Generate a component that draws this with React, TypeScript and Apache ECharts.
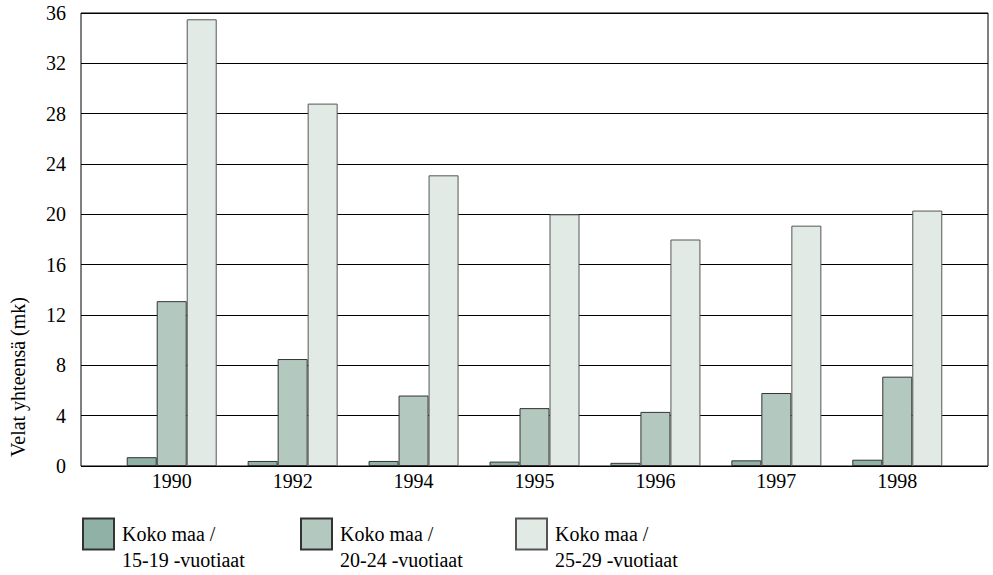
import React, { useEffect, useRef } from "react";
import * as echarts from "echarts";

const years = ["1990", "1992", "1994", "1995", "1996", "1997", "1998"];
const seriesNames = ["Koko maa /\n15-19 -vuotiaat", "Koko maa /\n20-24 -vuotiaat", "Koko maa /\n25-29 -vuotiaat"];
const age1519 = [0.7, 0.4, 0.4, 0.35, 0.25, 0.45, 0.5];
const age2024 = [13.1, 8.5, 5.6, 4.6, 4.3, 5.8, 7.1];
const age2529 = [35.5, 28.8, 23.1, 20.0, 18.0, 19.1, 20.3];
const yAxisName = "Velat yhteensä (mk)";
const colors = ["#8fb1a6", "#b3c9bf", "#e2eae6"];

const FONT = "serif";

export default function App() {
  const ref = useRef<HTMLDivElement>(null);
  useEffect(() => {
    if (!ref.current) return;
    const chart = echarts.init(ref.current, null, { renderer: "svg" });
    const dataSets = [age1519, age2024, age2529];
    const legendLefts = [82, 300, 515];
    chart.setOption({
      animation: false,
      textStyle: { fontFamily: FONT, color: "#000" },
      grid: [
        { left: 81, right: 5, top: 13, bottom: 109, show: true, borderColor: "#000", borderWidth: 1, backgroundColor: "transparent" },
        { left: 111.25, right: 35.25, top: 13, bottom: 109 },
      ],
      xAxis: [
        { gridIndex: 0, type: "value", min: 0, max: 1, show: false },
        {
          gridIndex: 1,
          type: "category",
          data: years,
          axisLine: { show: false },
          axisTick: { show: false },
          axisLabel: { fontFamily: FONT, fontSize: 20, color: "#000", margin: 5 },
        },
      ],
      yAxis: [
        {
          gridIndex: 0,
          type: "value",
          min: 0,
          max: 36,
          interval: 4,
          axisLine: { show: false },
          axisTick: { show: false },
          axisLabel: { fontFamily: FONT, fontSize: 20, color: "#000", margin: 15 },
          splitLine: { show: true, lineStyle: { color: "#000", width: 1 } },
        },
        { gridIndex: 1, type: "value", min: 0, max: 36, show: false },
      ],
      legend: seriesNames.map((n, i) => ({
        data: [n],
        left: legendLefts[i],
        top: 503,
        padding: 0,
        orient: "horizontal",
        icon: "rect",
        itemWidth: 31,
        itemHeight: 31,
        itemGap: 0,
        selectedMode: false,
        formatter: (name: string) => {
          const parts = name.split("\n");
          return `{s| }\n{a|${parts[0]}}\n{a|${parts[1]}}`;
        },
        textStyle: {
          fontFamily: FONT,
          fontSize: 20,
          color: "#000",
          rich: {
            s: { fontFamily: FONT, fontSize: 10, lineHeight: 26, padding: [0, 0, 0, 3] },
            a: { fontFamily: FONT, fontSize: 20, color: "#000", lineHeight: 26, padding: [0, 0, 0, 3] },
          },
        },
      })),
      series: seriesNames.map((n, i) => ({
        name: n,
        type: "bar",
        xAxisIndex: 1,
        yAxisIndex: 1,
        data: dataSets[i],
        barWidth: 30,
        barGap: "0%",
        itemStyle: { color: colors[i], borderColor: i === 2 ? "#555" : "#333", borderWidth: 1 },
      })),
      graphic: [
        {
          type: "text",
          x: 18,
          y: 377,
          rotation: Math.PI / 2,
          style: { text: yAxisName, font: `20px ${FONT}`, fill: "#000", textAlign: "center", textVerticalAlign: "middle" },
        },
      ],
    });
    return () => chart.dispose();
  }, []);
  return <div ref={ref} style={{ width: 993, height: 575, position: "absolute", left: 0, top: 0 }} />;
}
